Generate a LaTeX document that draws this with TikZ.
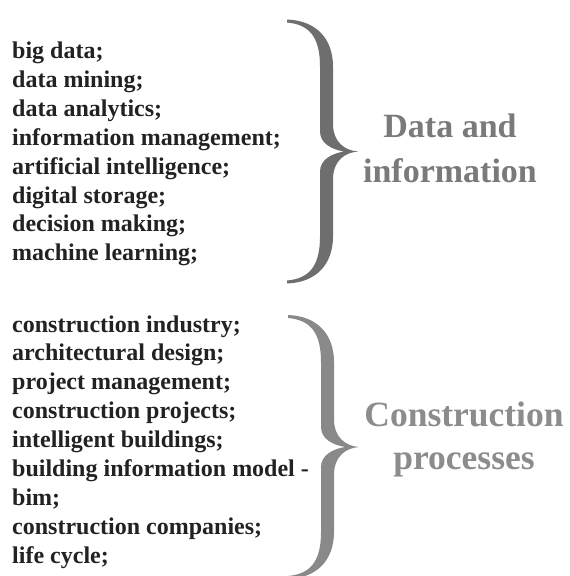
\documentclass[tikz,border=0pt]{standalone}
\usepackage{fontspec}
\setmainfont{Liberation Serif}
\usepackage{xcolor}
\usepackage{tikz}
\usetikzlibrary{positioning}

\definecolor{listblack}{HTML}{222222}
\definecolor{darkbrace}{HTML}{6E6E6E}
\definecolor{lightbrace}{HTML}{898989}
\definecolor{darktitle}{HTML}{7A7A7A}
\definecolor{lighttitle}{HTML}{8C8C8C}

\tikzset{
    bigbrace/.pic={
        \fill[pic actions] (-1,132) .. controls (28,131) and (45,113) .. (45,85)
            -- (45,28) .. controls (45,9) and (57,1) .. (70,0)
            .. controls (57,-1) and (45,-9) .. (45,-28)
            -- (45,-85) .. controls (45,-113) and (28,-131) .. (-1,-132)
            -- (-1,-129) .. controls (21,-127) and (32,-115) .. (32,-85)
            -- (32,-20) .. controls (32,-8) and (44,-2) .. (56,0)
            .. controls (44,2) and (32,8) .. (32,20)
            -- (32,85) .. controls (32,115) and (21,127) .. (-1,129) -- cycle;
    }
}

\begin{document}
\begin{tikzpicture}[
    x=1pt, y=1pt,
    item/.style={font=\fontsize{24}{28}\selectfont\bfseries, text=listblack, inner sep=0pt, text height=20pt, text depth=8.5pt},
    title/.style={font=\fontsize{34}{40}\selectfont\bfseries, inner sep=0pt, anchor=base},
]
\useasboundingbox (0,0) rectangle (570,-576);

% Upper list: data topics
\node[item, anchor=base west] (big) at (12,-58.5) {big data;};
\node[item, below=0pt of big.south west, anchor=north west] (mining) {data mining;};
\node[item, below=0pt of mining.south west, anchor=north west] (analytics) {data analytics;};
\node[item, below=0pt of analytics.south west, anchor=north west] (infomgmt) {information management;};
\node[item, below=0pt of infomgmt.south west, anchor=north west] (ai) {artificial intelligence;};
\node[item, below=0pt of ai.south west, anchor=north west] (storage) {digital storage;};
\node[item, below=0pt of storage.south west, anchor=north west] (decision) {decision making;};
\node[item, below=0pt of decision.south west, anchor=north west] (ml) {machine learning;};

% Upper brace and its title
\pic[fill=darkbrace] at (288,-151.5) {bigbrace};
\node[title, text=darktitle] (data-title) at (450,-137) {Data and};
\node[title, text=darktitle] (info-title) at (450,-182) {information};

% Lower list: construction topics
\node[item, anchor=base west] (industry) at (12,-332) {construction industry;};
\node[item, below=0pt of industry.south west, anchor=north west] (archdesign) {architectural design;};
\node[item, below=0pt of archdesign.south west, anchor=north west] (projmgmt) {project management;};
\node[item, below=0pt of projmgmt.south west, anchor=north west] (projects) {construction projects;};
\node[item, below=0pt of projects.south west, anchor=north west] (buildings) {intelligent buildings;};
\node[item, below=0pt of buildings.south west, anchor=north west] (bim) {building information model -};
\node[item, below=0pt of bim.south west, anchor=north west] (bim-end) {bim;};
\node[item, below=0pt of bim-end.south west, anchor=north west] (companies) {construction companies;};
\node[item, below=0pt of companies.south west, anchor=north west] (lifecycle) {life cycle;};

% Lower brace and its title
\pic[fill=lightbrace] at (289,-447) {bigbrace};
\node[title, font=\fontsize{35.5}{40}\selectfont\bfseries, text=lighttitle] (constr-title) at (464,-426) {Construction};
\node[title, font=\fontsize{35.5}{40}\selectfont\bfseries, text=lighttitle] (proc-title) at (464,-469) {processes};

\end{tikzpicture}
\end{document}
